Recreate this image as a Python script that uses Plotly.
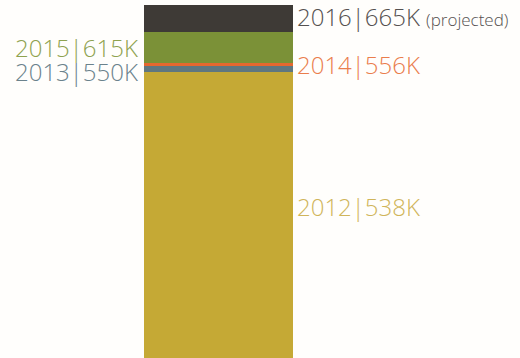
import plotly.graph_objects as go

# Cumulative totals per year (thousands)
years = ["2012", "2013", "2014", "2015", "2016"]
totals = [538, 550, 556, 615, 665]
notes = ["", "", "", "", "(projected)"]

bar_colors = ["#c5a935", "#5f7780", "#e5682f", "#7b9137", "#3e3a36"]
text_colors = ["#d0b55a", "#6b828c", "#ea7d4c", "#8ea24f", "#555150"]
label_side = ["right", "left", "right", "left", "right"]
label_shift = [9, -2, 0, 0, 1.5]

# stacked increments derived from the cumulative totals
increments = [totals[0]] + [totals[i] - totals[i - 1] for i in range(1, len(totals))]

fig = go.Figure()
for yr, inc, col in zip(years, increments, bar_colors):
    fig.add_trace(go.Bar(
        x=[0], y=[inc], name=yr, width=1,
        marker=dict(color=col, line=dict(width=0)),
        hoverinfo="skip",
    ))

base = 0
for i, (yr, tot, inc) in enumerate(zip(years, totals, increments)):
    mid = base + inc / 2
    base += inc
    text = f"{yr}|{tot}K"
    if notes[i]:
        text += f"&nbsp;<span style='font-size:17px'>{notes[i]}</span>"
    right = label_side[i] == "right"
    fig.add_annotation(
        x=0.5 if right else -0.5, y=mid, xref="x", yref="y",
        text=text, showarrow=False,
        xanchor="left" if right else "right", yanchor="middle",
        xshift=3 if right else -5, yshift=label_shift[i],
        borderpad=0,
        font=dict(family="Open Sans", size=24, color=text_colors[i], weight=300),
    )

fig.update_layout(
    barmode="stack",
    width=520, height=358,
    margin=dict(l=0, r=0, t=0, b=0),
    paper_bgcolor="#fffefc", plot_bgcolor="#fffefc",
    showlegend=False,
    bargap=0,
    xaxis=dict(range=[-1.4664, 2.0235], visible=False, fixedrange=True),
    yaxis=dict(range=[-0.5, 674.5], visible=False, fixedrange=True),
)

fig.write_html("out.html")
